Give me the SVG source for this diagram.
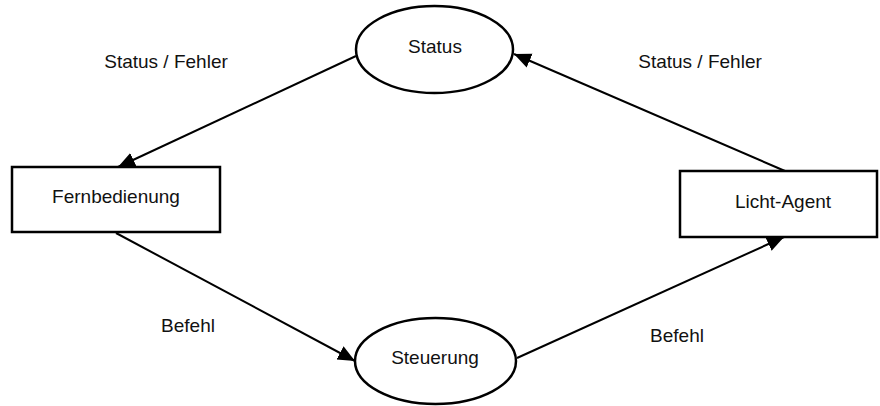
<svg xmlns="http://www.w3.org/2000/svg" width="880" height="406" viewBox="0 0 880 406">
<style>
.n{fill:#fff;stroke:#000;stroke-width:2.5}
.e{stroke:#000;stroke-width:2;fill:none}
text{font-family:"Liberation Sans",Arial,sans-serif;font-size:19px;fill:#111;text-anchor:middle}
</style>
<defs>
<marker id="ah" markerUnits="userSpaceOnUse" markerWidth="18" markerHeight="16" refX="17" refY="7.5" orient="auto" viewBox="0 0 18 16">
<path d="M0,0 L17,7.5 L0,15 z" fill="#000"/>
</marker>
</defs>
<rect width="880" height="406" fill="#fff"/>
<g id="connectors">
<line class="e" x1="356" y1="56" x2="118" y2="167" marker-end="url(#ah)"/>
<line class="e" x1="785" y1="171" x2="514" y2="54" marker-end="url(#ah)"/>
<line class="e" x1="116" y1="233" x2="355" y2="361" marker-end="url(#ah)"/>
<line class="e" x1="517" y1="358" x2="784" y2="237" marker-end="url(#ah)"/>
<text x="166" y="68">Status / Fehler</text>
<text x="700" y="68">Status / Fehler</text>
<text x="188" y="332">Befehl</text>
<text x="677" y="342">Befehl</text>
</g>
<g id="status">
<ellipse class="n" cx="434.5" cy="49.5" rx="78.5" ry="43.5"/>
<text x="435" y="53">Status</text>
</g>
<g id="fernbedienung">
<rect class="n" x="12" y="167" width="208" height="65"/>
<text x="116" y="203">Fernbedienung</text>
</g>
<g id="licht-agent">
<rect class="n" x="680" y="171" width="197" height="66"/>
<text x="783" y="208">Licht-Agent</text>
</g>
<g id="steuerung">
<ellipse class="n" cx="435.5" cy="361" rx="80.5" ry="43"/>
<text x="435" y="364">Steuerung</text>
</g>
</svg>
